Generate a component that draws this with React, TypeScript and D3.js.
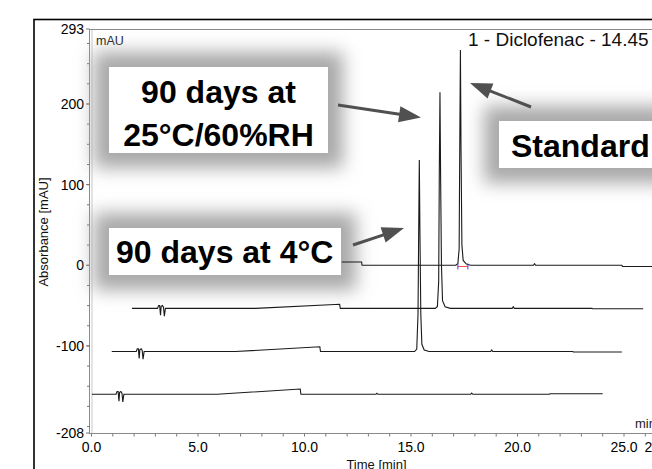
import React from "react";
import * as d3 from "d3";

const W = 652;
const H = 469;

// Axis ticks
const yTickValues = [293, 200, 100, 0, -100, -208];
const yMinorStep = 25;
const xTickValues = [0, 5, 10, 15, 20, 25];
const xEndTick = 26.6;
const xEndLabel = "26.6";

// Traces: [time (min), absorbance (mAU)]
const standardTrace: [number, number][] = [
  [11.75, 4], [12.68, 4], [12.7, 0], [17.1, 0], [17.2, 2], [17.26, 20], [17.29, 150], [17.32, 267],
  [17.35, 140], [17.39, 25], [17.45, 6], [17.6, 1.5], [17.8, 0], [20.75, 0], [20.8, 2], [20.85, 0],
  [24.9, 0], [24.93, -1.5], [28, -1.5],
];
const rh25Trace: [number, number][] = [
  [1.9, -53.4], [3.1, -53.4], [3.15, -50], [3.2, -50], [3.24, -62], [3.27, -51], [3.33, -50],
  [3.38, -52], [3.42, -63], [3.47, -53.4], [7.7, -53.4], [11.65, -48.4], [11.68, -53.4],
  [16.14, -53.4], [16.24, -51], [16.3, -20], [16.33, 120], [16.36, 214.5], [16.39, 110],
  [16.43, 0], [16.48, -44], [16.6, -51.5], [16.85, -53.4], [19.75, -53.4], [19.8, -51.5],
  [19.85, -53.4], [23.5, -53.4], [23.52, -54], [25.9, -54],
];
const c4Trace: [number, number][] = [
  [0.95, -107], [2.1, -107], [2.15, -103.5], [2.2, -103.5], [2.24, -115.5], [2.27, -104.5],
  [2.33, -103.5], [2.38, -105.5], [2.42, -116.5], [2.47, -107], [6.75, -107], [10.72, -101],
  [10.75, -107], [15.17, -107], [15.27, -104], [15.33, -60], [15.36, 40], [15.39, 130.6],
  [15.42, 40], [15.46, -60], [15.51, -98], [15.62, -105], [15.85, -107], [18.74, -107],
  [18.79, -105], [18.84, -107], [22.6, -107], [22.62, -107.6], [24.9, -107.6],
];
const c4bTrace: [number, number][] = [
  [0.02, -160], [1.15, -160], [1.2, -156.5], [1.25, -156.5], [1.29, -168.5], [1.32, -157.5],
  [1.38, -156.5], [1.43, -158.5], [1.47, -169.5], [1.52, -160], [5.9, -160], [9.8, -153.4],
  [9.83, -160], [13.35, -160], [13.4, -158.8], [13.45, -160], [17.8, -160], [17.85, -158.5],
  [17.9, -160], [21.5, -160], [21.52, -159.4], [24.0, -159.4],
];
const traces = [standardTrace, rh25Trace, c4Trace, c4bTrace];

// Integration marks for the standard peak
const integration = { start: 17.2, end: 17.67, level: -1.5 };

// Annotations
const annotations = [
  { lines: ["90 days at", "25°C/60%RH"], box: [109, 67, 219, 86], baselines: [102.5, 145.5], anchor: "middle", tx: 218.5 },
  { lines: ["Standard"], box: [499, 121, 200, 47], baselines: [157], anchor: "start", tx: 511 },
  { lines: ["90 days at 4°C"], box: [109, 228, 232, 47], baselines: [263], anchor: "start", tx: 116 },
];
const arrows = [
  { from: [338, 105], to: [421, 117.5] },
  { from: [531, 107], to: [470, 83] },
  { from: [353, 245], to: [404, 228] },
];

const FONT = "'Liberation Sans', Arial, sans-serif";

export default function App() {
  const x = d3.scaleLinear().domain([0, 25]).range([91.5, 624]);
  const y = d3.scaleLinear().domain([-208, 293]).range([433, 29]);
  const line = d3
    .line<[number, number]>()
    .x((d) => x(d[0]))
    .y((d) => y(d[1]));

  const yMinor = d3.range(-200, 293, yMinorStep);
  const xMinor = d3.range(0, 28, 1);

  const arrowEls = arrows.map((a, i) => {
    const [x1, y1] = a.from;
    const [x2, y2] = a.to;
    const ang = Math.atan2(y2 - y1, x2 - x1);
    const hl = 22;
    const hw = 8;
    const bx = x2 - hl * Math.cos(ang);
    const by = y2 - hl * Math.sin(ang);
    const px = -Math.sin(ang) * hw;
    const py = Math.cos(ang) * hw;
    return (
      <g key={i}>
        <line x1={x1} y1={y1} x2={bx + 2 * Math.cos(ang)} y2={by + 2 * Math.sin(ang)} stroke="#505050" strokeWidth={3} />
        <polygon points={`${x2},${y2} ${bx + px},${by + py} ${bx - px},${by - py}`} fill="#505050" />
      </g>
    );
  });

  return (
    <svg
      width={W}
      height={H}
      style={{ position: "absolute", left: 0, top: 0, display: "block", background: "#fff" }}
      fontFamily={FONT}
    >
      <defs>
        <filter id="blur" x="-50%" y="-80%" width="200%" height="260%">
          <feGaussianBlur stdDeviation={9} />
        </filter>
      </defs>
      <rect x={0} y={0} width={W} height={H} fill="#fff" />
      {/* outer frame */}
      <rect x={34} y={19.5} width={700} height={500} fill="none" stroke="#000" strokeWidth={1.6} />
      {/* plot frame */}
      <line x1={89} y1={29.5} x2={W} y2={29.5} stroke="#8a8a8a" strokeWidth={1} />
      <line x1={89.5} y1={29} x2={89.5} y2={433} stroke="#8a8a8a" strokeWidth={1} />
      <line x1={92} y1={30} x2={92} y2={433} stroke="#c8c8c8" strokeWidth={1} />
      <line x1={89} y1={433.5} x2={W} y2={433.5} stroke="#8a8a8a" strokeWidth={1} />

      {/* y ticks */}
      {yMinor.map((v) => (
        <line key={"ym" + v} x1={87} x2={89.5} y1={y(v)} y2={y(v)} stroke="#777" strokeWidth={1} />
      ))}
      {yTickValues.map((v) => (
        <g key={"yt" + v}>
          <line x1={86} x2={89.5} y1={y(v)} y2={y(v)} stroke="#777" />
          <text x={84} y={y(v)} dy="0.36em" textAnchor="end" fontSize={14} fill="#000">
            {String(v)}
          </text>
        </g>
      ))}
      {/* x ticks */}
      {xMinor.map((v) => (
        <line key={"xm" + v} x1={x(v)} x2={x(v)} y1={434} y2={436.5} stroke="#777" strokeWidth={1} />
      ))}
      {xTickValues.map((v) => (
        <text key={"xt" + v} x={x(v)} y={452} textAnchor="middle" fontSize={14} fill="#000">
          {v.toFixed(1)}
        </text>
      ))}
      <text x={x(xEndTick)} y={452} textAnchor="middle" fontSize={14} fill="#000">
        {xEndLabel}
      </text>
      <text x={376.5} y={468.5} textAnchor="middle" fontSize={13} fill="#111">
        Time [min]
      </text>
      <text transform="translate(48,232) rotate(-90)" textAnchor="middle" fontSize={13} fill="#111">
        Absorbance [mAU]
      </text>
      <text x={96} y={44.5} fontSize={12.5} fill="#222">
        mAU
      </text>
      <text x={635} y={428} fontSize={13} fill="#222">
        min
      </text>
      <text x={468} y={46} fontSize={19} fill="#111">
        1 - Diclofenac - 14.45
      </text>

      {/* shadows */}
      {annotations.map((a, i) => (
        <rect
          key={"sh" + i}
          x={a.box[0] - 15}
          y={a.box[1] - 15}
          width={a.box[2] + 30}
          height={a.box[3] + 30}
          fill="#a8a8a8"
          filter="url(#blur)"
        />
      ))}

      {/* traces */}
      {traces.map((t, i) => (
        <path key={"tr" + i} d={line(t) || ""} fill="none" stroke="#1a1a1a" strokeWidth={1.1} />
      ))}
      <line
        x1={x(integration.start)}
        x2={x(integration.end)}
        y1={y(integration.level)}
        y2={y(integration.level)}
        stroke="#ff5050"
        strokeWidth={1}
      />
      {[integration.start, integration.end].map((t, i) => (
        <line key={"int" + i} x1={x(t)} x2={x(t)} y1={y(integration.level) - 3} y2={y(integration.level) + 3} stroke="#4040ff" strokeWidth={1} />
      ))}

      {/* annotation boxes */}
      {annotations.map((a, i) => (
        <g key={"an" + i}>
          <rect x={a.box[0]} y={a.box[1]} width={a.box[2]} height={a.box[3]} fill="#fff" />
          {a.lines.map((l, j) => (
            <text
              key={j}
              x={a.tx}
              y={a.baselines[j]}
              textAnchor={a.anchor as any}
              fontSize={32}
              fontWeight="bold"
              fill="#000"
            >
              {l}
            </text>
          ))}
        </g>
      ))}
      {arrowEls}
    </svg>
  );
}
